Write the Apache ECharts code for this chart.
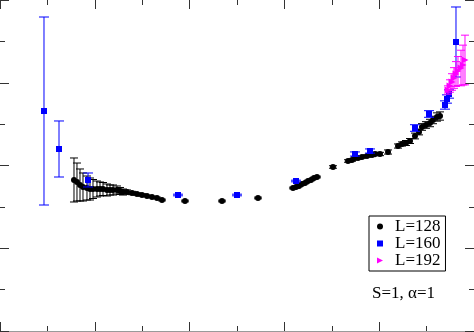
<!DOCTYPE html>
<html>
<head>
<meta charset="utf-8">
<script src="https://cdn.jsdelivr.net/npm/echarts@6/dist/echarts.min.js"></script>
<style>
	html, body { margin: 0; padding: 0; background: #fff; }
	#chart_1 { width: 474px; height: 332px; }
</style>
</head>
<body>
<div id="chart_1"></div>
<script>
// 数据: [x, y, 误差]
var seriesNames = ['L=128', 'L=160', 'L=192'];
var data128 = [
	[1.561, 3.650, 0.532], [1.624, 3.601, 0.459], [1.688, 3.529, 0.387], [1.751, 3.481, 0.338],
	[1.835, 3.456, 0.290], [1.899, 3.432, 0.266], [1.962, 3.432, 0.230], [2.046, 3.432, 0.193],
	[2.110, 3.432, 0.169], [2.173, 3.432, 0.157], [2.257, 3.408, 0.145], [2.321, 3.408, 0.121],
	[2.384, 3.408, 0.121], [2.468, 3.408, 0.097], [2.532, 3.384, 0.085], [2.595, 3.359, 0.073],
	[2.679, 3.359, 0.05], [2.785, 3.335, 0.04], [2.890, 3.311, 0.03], [2.996, 3.287, 0.03],
	[3.101, 3.263, 0.02], [3.207, 3.239, 0.02], [3.312, 3.215, 0.02], [3.418, 3.166, 0.02],
	[3.903, 3.142, 0.02], [4.684, 3.142, 0.02], [5.443, 3.215, 0.02],
	[6.181, 3.456, 0.02], [6.245, 3.480, 0.02], [6.308, 3.505, 0.02], [6.371, 3.553, 0.02],
	[6.435, 3.577, 0.02], [6.498, 3.625, 0.02], [6.561, 3.650, 0.02], [6.624, 3.698, 0.02],
	[6.688, 3.722, 0.02], [7.025, 3.964, 0.03], [7.342, 4.109, 0.03], [7.426, 4.133, 0.03],
	[7.489, 4.181, 0.03], [7.553, 4.181, 0.03], [7.637, 4.205, 0.03], [7.743, 4.230, 0.03],
	[7.848, 4.254, 0.04], [7.911, 4.278, 0.04], [8.017, 4.278, 0.04], [8.186, 4.326, 0.05],
	[8.397, 4.471, 0.05], [8.481, 4.520, 0.05], [8.565, 4.544, 0.06], [8.650, 4.592, 0.06],
	[8.755, 4.713, 0.07], [8.840, 4.810, 0.07], [8.903, 4.931, 0.08], [8.987, 4.979, 0.08],
	[9.072, 5.027, 0.09], [9.135, 5.100, 0.09], [9.219, 5.172, 0.1], [9.283, 5.196, 0.1]
];
var data160 = [
	[0.928, 5.317, 2.272], [1.245, 4.399, 0.677], [1.857, 3.650, 0.169], [3.755, 3.287, 0.02],
	[5.000, 3.287, 0.02], [6.245, 3.625, 0.02], [7.489, 4.278, 0.05], [7.806, 4.350, 0.05],
	[8.755, 4.906, 0.08], [9.051, 5.245, 0.08], [9.388, 5.462, 0.1], [9.430, 5.607, 0.1],
	[9.473, 5.728, 0.1], [9.620, 6.985, 0.846]
];
var data192 = [
	[9.451, 5.825, 0.1], [9.494, 5.921, 0.15], [9.536, 6.018, 0.2], [9.578, 6.115, 0.25],
	[9.620, 6.211, 0.3], [9.662, 6.284, 0.35], [9.726, 6.356, 0.43], [9.768, 6.429, 0.48],
	[9.810, 6.550, 0.6]
];
var xTicks = { min: 0, max: 10, interval: 2 };
var yTicks = { min: 0, max: 8, interval: 2 };

var colors = ['#000000', '#0000ff', '#ff00ff'];
var triPath = 'path://M0,0 L10,5 L0,10 Z';

function errorBar(color, capHalf) {
	return function(params, api) {
		var x = api.value(0), y = api.value(1), e = api.value(2);
		var top = api.coord([x, y + e]);
		var bot = api.coord([x, y - e]);
		var st = { stroke: color, lineWidth: 1 };
		return {
			type: 'group',
			children: [
				{ type: 'line', shape: { x1: top[0], y1: top[1], x2: bot[0], y2: bot[1] }, style: st },
				{ type: 'line', shape: { x1: top[0] - capHalf, y1: top[1], x2: top[0] + capHalf, y2: top[1] }, style: st },
				{ type: 'line', shape: { x1: bot[0] - capHalf, y1: bot[1], x2: bot[0] + capHalf, y2: bot[1] }, style: st }
			]
		};
	};
}

var myChart = echarts.init(document.getElementById('chart_1'));

function valueAxis(pos, ticks, showLine) {
	return {
		type: 'value',
		position: pos,
		min: ticks.min,
		max: ticks.max,
		interval: ticks.interval,
		axisLabel: { show: false },
		splitLine: { show: false },
		axisLine: { show: showLine, onZero: false, lineStyle: { color: '#9a9a9a', width: 1 } },
		axisTick: { show: true, inside: true, length: 9, lineStyle: { color: '#333', width: 1 } },
		minorTick: { show: true, splitNumber: 2, length: 5, lineStyle: { color: '#333', width: 1 } }
	};
}

var series = [];
var datas = [data128, data160, data192];
var symbols = ['circle', 'rect', triPath];
var sizes = [6, 6, 7];
var caps = [4, 5, 4];
for (var v = 0; v < 3; v++) {
	series.push({
		type: 'scatter',
		name: seriesNames[v],
		symbol: symbols[v],
		symbolSize: sizes[v],
		itemStyle: { color: colors[v], opacity: 1 },
		data: datas[v].map(function(d) { return [d[0], d[1]]; }),
		z: 3 + v * 2
	});
	series.push({
		type: 'custom',
		name: seriesNames[v],
		renderItem: errorBar(colors[v], caps[v]),
		itemStyle: { color: colors[v] },
		data: datas[v],
		encode: { x: 0, y: 1 },
		silent: true,
		z: 2 + v * 2
	});
}

var option = {
	animation: false,
	backgroundColor: '#fff',
	grid: { left: 0, right: 0, top: 0, bottom: 1 },
	xAxis: [valueAxis('bottom', xTicks, true), valueAxis('top', xTicks, false)],
	yAxis: [valueAxis('left', yTicks, false), valueAxis('right', yTicks, false)],
	legend: {
		orient: 'vertical',
		left: 369,
		top: 216,
		width: 83,
		padding: [2, 5, 2, 8],
		itemGap: 0,
		itemWidth: 6,
		itemHeight: 6,
		borderColor: '#000',
		borderWidth: 1,
		backgroundColor: '#fff',
		data: [
			{ name: 'L=128', icon: 'circle', itemStyle: { color: colors[0], opacity: 1 } },
			{ name: 'L=160', icon: 'rect', itemStyle: { color: colors[1], opacity: 1 } },
			{ name: 'L=192', icon: triPath, itemStyle: { color: colors[2], opacity: 1 } }
		],
		textStyle: { fontFamily: 'Liberation Serif', fontSize: 17, color: '#000', lineHeight: 17, padding: [0, 0, 0, 7] }
	},
	graphic: [{
		type: 'text',
		left: 372,
		top: 285,
		style: { text: 'S=1, α=1', font: '17px "Liberation Serif"', fill: '#000' }
	}],
	series: series
};
myChart.setOption(option);
</script>
</body>
</html>
